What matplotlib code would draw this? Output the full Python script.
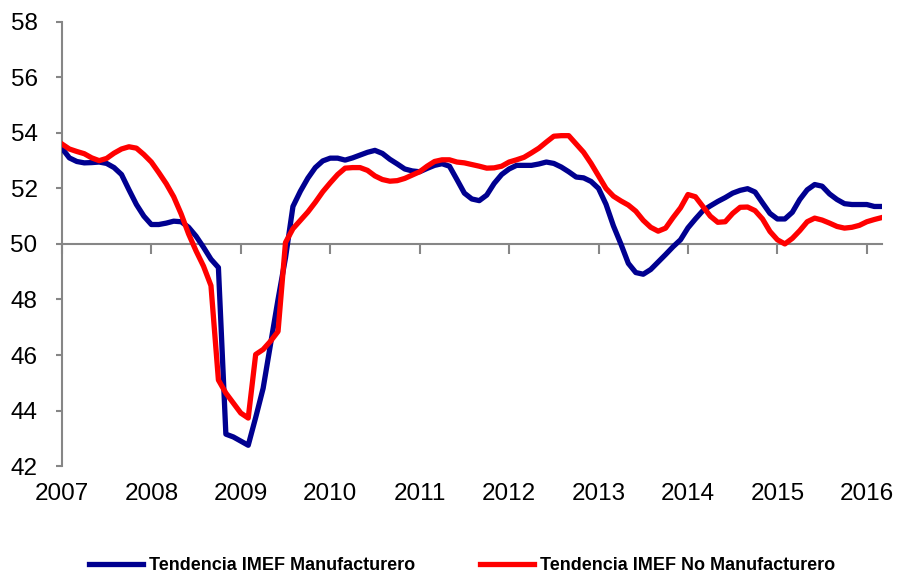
import numpy as np
import matplotlib
matplotlib.use("Agg")
import matplotlib.pyplot as plt

# monthly series, Jan 2007 - Mar 2016
manufacturero = [
    53.45, 53.1, 52.97, 52.92, 52.93, 52.95, 52.9, 52.75, 52.5, 51.95,
    51.42, 51.0, 50.7, 50.7, 50.75, 50.82, 50.8, 50.6, 50.28, 49.88,
    49.45, 49.15, 43.15, 43.05, 42.9, 42.75, 43.75, 44.8, 46.4, 48.0,
    49.5, 51.35, 51.9, 52.37, 52.75, 52.99, 53.09, 53.09, 53.02, 53.1,
    53.2, 53.3, 53.37, 53.26, 53.05, 52.88, 52.7, 52.63, 52.6, 52.72,
    52.83, 52.89, 52.8, 52.32, 51.83, 51.62, 51.56, 51.76, 52.18, 52.5,
    52.7, 52.83, 52.83, 52.83, 52.88, 52.95, 52.9, 52.77, 52.6, 52.41,
    52.38, 52.25, 52.0, 51.43, 50.65, 50.0, 49.3, 48.97, 48.91, 49.08,
    49.35, 49.62, 49.9, 50.15, 50.58, 50.9, 51.2, 51.37, 51.53, 51.67,
    51.83, 51.93, 51.99, 51.87, 51.48, 51.1, 50.9, 50.9, 51.14, 51.6,
    51.95, 52.14, 52.08, 51.8, 51.6, 51.45, 51.42, 51.42, 51.42, 51.35,
    51.35,
]
no_manufacturero = [
    53.6, 53.42, 53.33, 53.25, 53.1, 53.0, 53.08, 53.27, 53.42, 53.5,
    53.45, 53.22, 52.95, 52.57, 52.17, 51.7, 51.08, 50.36, 49.75, 49.2,
    48.5, 45.1, 44.63, 44.27, 43.91, 43.73, 46.02, 46.2, 46.5, 46.85,
    50.05, 50.55, 50.85, 51.15, 51.5, 51.88, 52.2, 52.5, 52.73, 52.75,
    52.75, 52.65, 52.45, 52.32, 52.26, 52.28, 52.36, 52.48, 52.6, 52.8,
    52.97, 53.03, 53.03, 52.95, 52.92, 52.86, 52.8, 52.73, 52.74, 52.8,
    52.95, 53.03, 53.12, 53.28, 53.45, 53.67, 53.88, 53.9, 53.9, 53.6,
    53.3, 52.9, 52.45, 52.0, 51.72, 51.55, 51.4, 51.18, 50.85, 50.6,
    50.46, 50.57, 50.95, 51.3, 51.78, 51.7, 51.35, 51.0, 50.78, 50.8,
    51.1, 51.32, 51.33, 51.2, 50.9, 50.45, 50.15, 50.0, 50.2, 50.48,
    50.8, 50.93, 50.86, 50.75, 50.63, 50.57, 50.6, 50.67, 50.8, 50.88,
    50.95,
]
years = [str(y) for y in range(2007, 2017)]
yticks = [42, 44, 46, 48, 50, 52, 54, 56, 58]

plt.rcParams['font.family'] = ['Liberation Sans', 'DejaVu Sans']

months = np.arange(len(manufacturero))
axis_grey = '#868686'

fig = plt.figure(figsize=(8.97, 5.74), dpi=100)
ax = fig.add_axes([0.069, 0.188, 0.914, 0.774])

ax.plot(months, manufacturero, color='#000090', lw=3.8,
        solid_joinstyle='round', label='Tendencia IMEF Manufacturero')
ax.plot(months, no_manufacturero, color='#FF0000', lw=3.8,
        solid_joinstyle='round', label='Tendencia IMEF No Manufacturero')

ax.set_xlim(0, len(months) - 1)
ax.set_ylim(42, 58)
ax.set_yticks(yticks)
ax.set_yticklabels([str(t) for t in yticks])

# category axis crosses at 50
ax.spines['top'].set_visible(False)
ax.spines['right'].set_visible(False)
ax.spines['bottom'].set_position(('data', 50))
for s in ['left', 'bottom']:
    ax.spines[s].set_color(axis_grey)
    ax.spines[s].set_linewidth(1.5)
    ax.spines[s].set_zorder(1)

year_pos = np.arange(0, len(months), 12)
ax.set_xticks(year_pos)
ax.tick_params(axis='x', direction='out', length=7, width=1.5,
               color=axis_grey, labelbottom=False)
ax.tick_params(axis='y', direction='out', length=4.5, width=1.5,
               color=axis_grey, labelsize=17.5, pad=13)

for pos, lab in zip(year_pos, years):
    ax.annotate(lab, (pos, 0), xycoords=('data', 'axes fraction'),
                xytext=(0, -12), textcoords='offset points',
                ha='center', va='top', fontsize=17.5)

leg = fig.legend(loc='center', bbox_to_anchor=(0.515, 0.014), ncol=2,
                 frameon=False, handlelength=3.0, handletextpad=0.3,
                 columnspacing=3.6, prop={'weight': 'bold', 'size': 13})

fig.savefig('out.png', dpi=100)
